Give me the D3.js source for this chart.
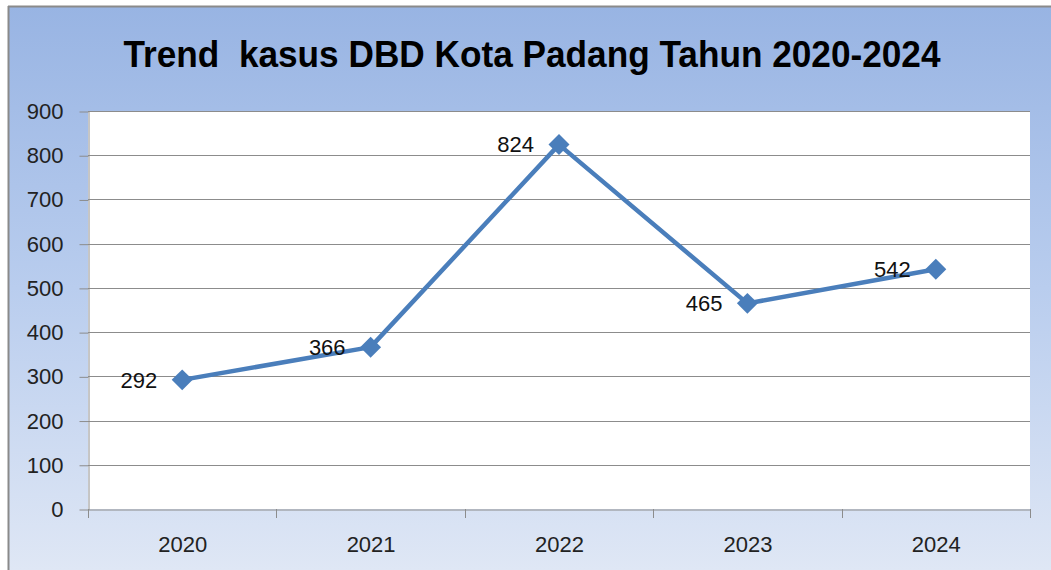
<!DOCTYPE html>
<html><head><meta charset="utf-8">
<script src="https://cdn.jsdelivr.net/npm/d3@7"></script>
<style>html,body{margin:0;padding:0;background:#fff;}svg{display:block;}</style>
</head><body>
<script>
const categories = ["2020","2021","2022","2023","2024"];
const values = [292, 366, 824, 465, 542];
const yTicks = [0,100,200,300,400,500,600,700,800,900];
const title = "Trend  kasus DBD Kota Padang Tahun 2020-2024";

const W = 1051, H = 570;
const svg = d3.select("body").append("svg").attr("width", W).attr("height", H);
const defs = svg.append("defs");
const grad = defs.append("linearGradient").attr("id","bg").attr("x1",0).attr("y1",0).attr("x2",0).attr("y2",1);
grad.append("stop").attr("offset","0%").attr("stop-color","#98b4e3");
grad.append("stop").attr("offset","50%").attr("stop-color","#b9cdee");
grad.append("stop").attr("offset","100%").attr("stop-color","#dfe7f5");

svg.append("rect").attr("x",0).attr("y",0).attr("width",W).attr("height",H).attr("fill","#fff");
svg.append("rect").attr("x",8).attr("y",6).attr("width",W-8).attr("height",H-6).attr("fill","url(#bg)");
svg.append("line").attr("x1",8).attr("x2",W).attr("y1",6.5).attr("y2",6.5).attr("stroke","#8a8a8a").attr("stroke-width",2);
svg.append("line").attr("x1",8.5).attr("x2",8.5).attr("y1",6).attr("y2",H).attr("stroke","#8a8a8a").attr("stroke-width",2);

const L = 88, R = 1030, T = 111, B = 509;
const x = d3.scaleBand().domain(categories).range([L, R]);
const y = d3.scaleLinear().domain([0, 900]).range([B, T]);

svg.append("rect").attr("x",L).attr("y",T).attr("width",R-L).attr("height",B-T).attr("fill","#fff");

// gridlines
svg.append("g").selectAll("line").data(yTicks.filter(d=>d>0)).join("line")
  .attr("x1",L).attr("x2",R).attr("y1",d=>Math.round(y(d))+0.5).attr("y2",d=>Math.round(y(d))+0.5)
  .attr("stroke","#8c8c8c").attr("stroke-width",1);

const font = "'Liberation Sans', Arial, sans-serif";
// y axis
const yAxis = svg.append("g").attr("transform",`translate(${L+0.5},0.5)`)
  .call(d3.axisLeft(y).tickValues(yTicks).tickSize(9).tickPadding(16).tickSizeOuter(0));
yAxis.select(".domain").attr("stroke","#8c8c8c");
yAxis.selectAll(".tick line").attr("stroke","#8c8c8c");
yAxis.selectAll("text").attr("font-family",font).attr("font-size",22).attr("fill","#222");

// x axis
const xAxis = svg.append("g").attr("transform",`translate(0.5,${B+0.5})`)
  .call(d3.axisBottom(x).tickSize(0).tickPadding(27).tickSizeOuter(0));
xAxis.select(".domain").attr("stroke","#8c8c8c");
xAxis.selectAll("text").attr("font-family",font).attr("font-size",22).attr("fill","#222");
const bounds = categories.map(c=>x(c)).concat([R]);
svg.append("g").selectAll("line").data(bounds).join("line")
  .attr("x1",d=>Math.round(d)+0.5).attr("x2",d=>Math.round(d)+0.5).attr("y1",B).attr("y2",B+9)
  .attr("stroke","#8c8c8c");

// line
const cx = d => x(d) + x.bandwidth()/2;
const line = d3.line().x((d,i)=>cx(categories[i])).y(d=>y(d));
svg.append("path").datum(values).attr("d",line).attr("fill","none")
  .attr("stroke","#4a7ebb").attr("stroke-width",4.5).attr("stroke-linejoin","round");

svg.append("g").selectAll("path").data(values).join("path")
  .attr("d", d3.symbol().type(d3.symbolSquare).size(220))
  .attr("transform",(d,i)=>`translate(${cx(categories[i])},${y(d)}) rotate(45)`)
  .attr("fill","#4a7ebb");

svg.append("g").selectAll("text").data(values).join("text")
  .attr("x",(d,i)=>cx(categories[i])-25).attr("y",d=>y(d)+2)
  .attr("text-anchor","end").attr("dominant-baseline","middle")
  .attr("font-family",font).attr("font-size",22).attr("fill","#111")
  .text(d=>d);

// title
svg.append("text").attr("x",532).attr("y",67).attr("text-anchor","middle")
  .attr("font-family",font).attr("font-weight","bold").attr("font-size",37)
  .attr("fill","#000").style("white-space","pre")
  .attr("textLength",817).attr("lengthAdjust","spacingAndGlyphs")
  .text(title);
</script>
</body></html>
